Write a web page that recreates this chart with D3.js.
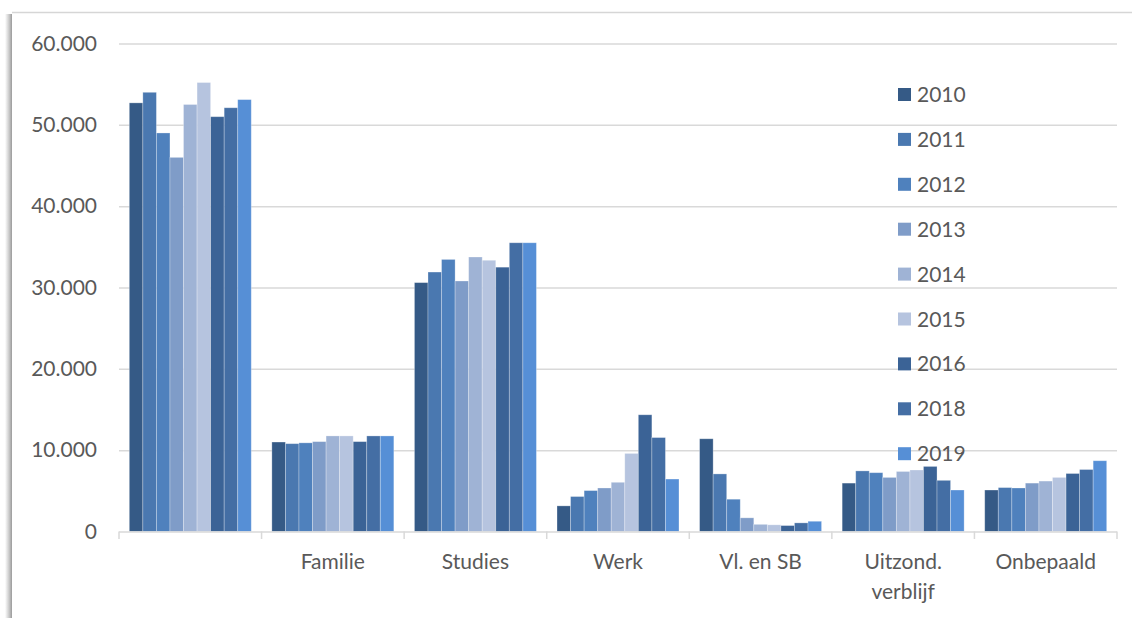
<!DOCTYPE html>
<html>
<head>
<meta charset="utf-8">
<script src="https://cdn.jsdelivr.net/npm/d3@7"></script>
<style>
  html, body { margin: 0; padding: 0; background: #fff; }
  svg { display: block; }
  text { font-family: Lato, "Liberation Sans", sans-serif; fill: #595959; }
</style>
</head>
<body>
<svg id="chart" width="1132" height="618"></svg>
<script>
// ---- data ----
const categories = ["", "Familie", "Studies", "Werk", "Vl. en SB", "Uitzond.\nverblijf", "Onbepaald"];
const years = ["2010", "2011", "2012", "2013", "2014", "2015", "2016", "2018", "2019"];
const v2010 = [52700, 11000, 30600, 3150, 11400, 5950, 5100];
const v2011 = [54000, 10800, 31900, 4300, 7080, 7450, 5400];
const v2012 = [49000, 10900, 33450, 5030, 3970, 7230, 5350];
const v2013 = [46000, 11050, 30800, 5350, 1680, 6650, 5950];
const v2014 = [52500, 11750, 33750, 6050, 880, 7380, 6200];
const v2015 = [55200, 11750, 33350, 9600, 820, 7560, 6650];
const v2016 = [51000, 11050, 32500, 14350, 730, 8000, 7130];
const v2018 = [52100, 11750, 35500, 11550, 1060, 6290, 7620];
const v2019 = [53100, 11750, 35500, 6450, 1260, 5100, 8700];
const seriesValues = [v2010, v2011, v2012, v2013, v2014, v2015, v2016, v2018, v2019];
const yTicks = [0, 10000, 20000, 30000, 40000, 50000, 60000];
const colors = ["#355a86", "#4a78b0", "#4f81bd", "#7f9cc8", "#9fb3d5", "#b6c4df", "#3b6396", "#446ea4", "#568fd6"];

// ---- layout ----
const svg = d3.select("#chart");
const W = 1132, H = 618;
const plot = { left: 119, right: 1117, top: 43.5, bottom: 531.5 };

// frame with left shadow
const defs = svg.append("defs");
const grad = defs.append("linearGradient").attr("id", "shadowL").attr("x1", "0").attr("x2", "1");
grad.append("stop").attr("offset", "0").attr("stop-color", "#ffffff");
grad.append("stop").attr("offset", "0.6").attr("stop-color", "#c8c8c8");
grad.append("stop").attr("offset", "1").attr("stop-color", "#9a9a9a");
svg.append("rect").attr("x", 5).attr("y", 14).attr("width", 7).attr("height", H - 14).attr("fill", "url(#shadowL)");
svg.append("line").attr("x1", 12).attr("x2", W).attr("y1", 12.5).attr("y2", 12.5)
  .attr("stroke", "#d6d6d6").attr("stroke-width", 1.5);

const x0 = d3.scaleBand().domain(categories).range([plot.left, plot.right]).paddingInner(0).paddingOuter(0);
const x1 = d3.scaleBand().domain(years).range([0, x0.bandwidth()]).paddingInner(0).paddingOuter(0.76);
const y = d3.scaleLinear().domain([0, 60000]).range([plot.bottom, plot.top]);

const nl = d3.formatLocale({ decimal: ",", thousands: ".", grouping: [3], currency: ["€", ""] });
const fmt = nl.format(",");

// gridlines + y labels
const yAxis = d3.axisLeft(y).tickValues(yTicks).tickFormat(fmt)
  .tickSize(-(plot.right - plot.left)).tickPadding(22);
const gy = svg.append("g").attr("transform", `translate(${plot.left},0)`).call(yAxis);
gy.select(".domain").remove();
gy.selectAll(".tick line").attr("stroke", "#d9d9d9").attr("stroke-width", 1.5)
  .filter(d => d === 0).remove();
gy.selectAll(".tick text").attr("font-size", 21).attr("fill", "#595959")
  .style("font-family", "Lato, sans-serif");

// bars
const groups = svg.append("g").selectAll("g").data(categories).join("g")
  .attr("transform", d => `translate(${x0(d)},0)`);
groups.selectAll("rect").data((d, ci) => years.map((yr, si) => ({ yr, si, v: seriesValues[si][ci] })))
  .join("rect")
  .attr("x", d => x1(d.yr))
  .attr("y", d => y(d.v))
  .attr("width", x1.bandwidth())
  .attr("height", d => y(0) - y(d.v))
  .attr("fill", d => colors[d.si])
  .attr("stroke", "rgba(255,255,255,0.35)")
  .attr("stroke-width", 0.8);

// x axis line with ticks at band boundaries
const xa = svg.append("g");
xa.append("line").attr("x1", plot.left).attr("x2", plot.right).attr("y1", plot.bottom + 0.5).attr("y2", plot.bottom + 0.5)
  .attr("stroke", "#d9d9d9").attr("stroke-width", 1.5);
const bounds = categories.map(c => x0(c)).concat([plot.right]);
xa.selectAll("line.tk").data(bounds).join("line").attr("class", "tk")
  .attr("x1", d => d).attr("x2", d => d).attr("y1", plot.bottom).attr("y2", plot.bottom + 7.5)
  .attr("stroke", "#d9d9d9").attr("stroke-width", 1.5);

// category labels
const lab = svg.append("g").selectAll("text").data(categories).join("text")
  .attr("x", d => x0(d) + x0.bandwidth() / 2)
  .attr("y", 569)
  .attr("text-anchor", "middle")
  .attr("font-size", 21);
lab.each(function (d) {
  const lines = d.split("\n");
  const t = d3.select(this);
  lines.forEach((ln, i) => {
    t.append("tspan").attr("x", t.attr("x")).attr("dy", i === 0 ? 0 : 30).text(ln);
  });
});

// legend
const leg = svg.append("g").selectAll("g").data(years).join("g")
  .attr("transform", (d, i) => `translate(898,${94.5 + i * 44.9})`);
leg.append("rect").attr("x", 0).attr("y", -6.5).attr("width", 13).attr("height", 13)
  .attr("fill", (d, i) => colors[i]);
leg.append("text").attr("x", 19).attr("y", 0).attr("dy", "0.36em").attr("font-size", 21).text(d => d);
</script>
</body>
</html>
